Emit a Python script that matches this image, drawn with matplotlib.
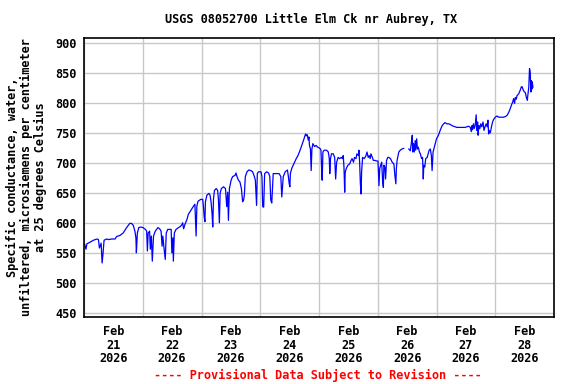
import numpy as np
import pandas as pd
import matplotlib
matplotlib.use("Agg")
import matplotlib.pyplot as plt

# hours after 2026-02-21 00:00 and specific conductance (uS/cm at 25 C)
hours = [0.3, 0.8, 1.2, 2.6, 3.9, 5.3, 5.9, 6.3, 7.0, 7.4, 7.8, 8.2, 9.3, 10.0, 11.3,
         12.7, 13.3, 14.7, 16.0, 17.4, 18.7, 19.4, 20.1, 20.8, 21.2, 21.4, 21.8, 22.4,
         23.2, 24.1, 25.1, 25.6, 25.9, 26.2, 26.8, 27.1, 27.5, 27.9, 28.4, 29.1, 30.2,
         30.9, 31.5, 31.9, 32.2, 32.6, 33.2, 33.6, 34.2, 35.6, 35.9, 36.3, 36.5, 36.9,
         37.6, 38.6, 39.4, 40.0, 40.3, 40.7, 41.2, 42.1, 42.6, 43.4, 44.3, 45.3, 45.8,
         46.1, 46.6, 47.7,
         48.5, 48.8, 49.1, 49.4, 49.6, 50.2, 51.0, 51.5, 51.9, 52.3, 52.6, 52.9, 53.3,
         54.0, 54.6, 54.9, 55.3, 55.6, 56.1, 57.0, 57.8, 58.3, 58.7, 59.0, 59.4, 60.1,
         60.7, 61.7, 62.1, 62.5, 63.1, 63.7, 64.3, 64.8, 65.2, 65.5, 65.9, 66.6, 67.3,
         68.2, 68.9, 69.6, 70.0, 70.5, 70.8, 71.3, 72.3, 72.7, 73.0, 73.4, 73.8, 74.6,
         75.4, 75.9, 76.3, 76.7, 77.3, 78.4, 79.7, 80.4, 80.8, 81.4, 82.2, 83.1, 83.5,
         83.8, 84.1, 84.3, 84.9, 85.8,
         86.7, 87.4, 88.0, 88.7, 89.4, 90.1, 90.5, 90.8, 91.2, 91.6, 91.9, 92.1, 92.5,
         92.8, 93.1, 93.5, 94.2, 94.8, 95.5,
         96.4, 96.8, 97.1, 97.3, 97.6, 98.1, 99.1, 99.8, 100.2, 100.4, 100.7, 101.1,
         101.8, 102.4, 102.8, 103.2, 103.8, 104.4, 105.1, 105.5, 105.9, 106.2, 106.5,
         106.7, 107.1, 107.8, 108.5, 109.1, 109.5, 110.1, 110.5, 111.1, 111.5, 112.1,
         112.3, 112.6, 112.9, 113.2, 113.4, 113.8, 114.5, 115.2, 115.6, 116.1, 116.5,
         116.9, 117.2, 117.8, 118.2, 118.8, 119.6, 120.1, 120.5, 120.8, 121.2, 121.6,
         122.0, 122.3, 122.5, 122.9, 123.2, 123.6, 124.1, 124.5, 125.2, 125.9, 126.6,
         127.0, 127.4, 127.6, 127.9, 128.6, 129.2, 129.9, 130.6, 131.6,
         132.7, 133.3, 133.7, 134.1, 134.3, 134.6, 134.9, 135.3, 135.5, 135.9, 136.2,
         136.6, 137.0, 137.4, 137.9, 138.3, 138.6, 138.8, 139.2, 139.6, 140.2, 140.6,
         141.0, 141.5, 141.9, 142.2, 142.6, 143.3, 144.0,
         144.8, 145.5, 146.2, 146.9, 147.5, 148.2, 148.9, 149.6, 150.3, 151.0, 151.6,
         152.3, 153.0, 154.4, 155.7, 156.4, 157.1, 157.8, 158.2, 158.5, 158.7, 159.1,
         159.4, 159.8, 160.2, 160.5, 160.8, 161.0, 161.3, 161.7, 162.1, 162.5, 163.0,
         163.4, 163.9, 164.3, 164.7, 165.0, 165.3, 165.5, 166.0, 166.4, 166.9, 167.3,
         168.0, 168.7, 169.4, 170.1, 170.7, 171.4, 172.1, 172.8, 173.5, 174.1, 174.6,
         175.1, 175.5, 175.9, 176.2, 176.6, 176.9, 177.6, 178.2, 178.6, 178.9, 179.3,
         179.7, 180.3, 180.7, 181.1, 181.3, 181.7, 182.0, 182.3, 182.4, 182.6, 182.7,
         183.0, 183.1, 183.4]
cond = [564, 556, 565, 568, 571, 573, 572, 558, 566, 533, 550, 571, 573, 572, 573,
        573, 577, 579, 583, 592, 599, 599, 596, 586, 575, 550, 583, 592,
        593, 592, 589, 586, 553, 583, 586, 556, 578, 536, 578, 586, 592,
        590, 586, 561, 578, 561, 539, 583, 589, 589, 550, 575, 536, 583,
        589, 592, 594, 597, 600, 590, 597, 606, 614, 619, 625, 631, 578,
        628, 636, 639,
        639, 627, 610, 602, 635, 646, 649, 646, 635, 616, 593, 640, 654,
        657, 654, 640, 600, 649, 657, 660, 657, 627, 651, 604, 657, 671,
        677, 679, 683, 677, 671, 668, 657, 635, 638, 646, 677, 685, 688,
        687, 685, 677, 671, 629, 682, 685, 685, 677, 627, 626, 682, 685,
        683, 677, 638, 633, 682, 682, 682, 677, 643, 677, 685, 688, 677,
        666, 660, 682, 691, 699,
        707, 712, 718, 726, 734, 743, 748, 745, 747, 738, 743, 729, 723,
        687, 723, 732, 727, 729, 726,
        724, 721, 687, 671, 718, 721, 721, 718, 707, 682, 707, 715,
        715, 709, 673, 701, 709, 707, 709, 707, 712, 693, 651,
        684, 690, 696, 698, 704, 707, 701, 709, 707, 715, 712,
        721, 701, 665, 648, 684, 709, 707, 712, 718, 709, 712,
        707, 715, 709, 704, 704, 703, 703, 662, 690, 696, 701,
        668, 659, 696, 693, 673, 704, 709, 709, 707, 701, 698,
        679, 665, 690, 704, 718, 721, 723, 724, np.nan,
        723, 720, 732, 746, 718, 732, 718, 737, 721, 740, 723,
        726, 718, 715, 707, 709, 673, 696, 693, 707, 709, 715,
        721, 723, 712, 687, 718, 729, 740,
        746, 754, 761, 765, 767, 765, 765, 764, 762, 761, 760,
        759, 759, 759, 759, 760, 761, 759, 752, 762, 755, 765,
        757, 762, 780, 754, 768, 746, 762, 757, 765, 760, 768,
        754, 761, 765, 760, 771, 748, 754, 750, 759, 768, 772,
        776, 778, 776, 776, 776, 776, 777, 779, 784, 790, 796,
        801, 807, 799, 809, 806, 812, 815, 821, 826, 827, 823,
        819, 817, 809, 804, 812, 826, 857, 851, 835, 818, 837,
        823, 835, 826]

day_labels = ["Feb\n21\n2026", "Feb\n22\n2026", "Feb\n23\n2026", "Feb\n24\n2026",
              "Feb\n25\n2026", "Feb\n26\n2026", "Feb\n27\n2026", "Feb\n28\n2026"]
y_ticks = [450, 500, 550, 600, 650, 700, 750, 800, 850, 900]

start = pd.Timestamp("2026-02-21")
times = start + pd.to_timedelta(hours, unit="h")

plt.rcParams['font.family'] = 'DejaVu Sans Mono'
plt.rcParams['font.weight'] = 'bold'
fs = 8.6

fig = plt.figure(figsize=(5.76, 3.84), dpi=100)
ax = fig.add_axes([84/576, 1-317/384, 470/576, 279/384])

ax.plot(times, cond, color='#0000ff', lw=0.9)

midnights = pd.date_range("2026-02-21", periods=9, freq="D")
noons = midnights[:-1] + pd.Timedelta(hours=12)
ax.set_xlim(midnights[0], midnights[-1])
ax.set_xticks(midnights)
ax.set_xticklabels([])
ax.set_xticks(noons, minor=True)
ax.set_xticklabels(day_labels, minor=True, fontsize=fs, fontweight='bold',
                   linespacing=1.05)
ax.tick_params(axis='x', which='both', length=0, pad=6)

ax.set_ylim(443, 908)
ax.set_yticks(y_ticks)
ax.set_yticklabels([str(v) for v in y_ticks], fontsize=fs, fontweight='bold')
ax.tick_params(axis='y', length=0, pad=5)

ax.grid(True, which='major', color='#c8c8c8', lw=1.0)
ax.set_axisbelow(True)
for s in ax.spines.values():
    s.set_linewidth(1.2)

ax.set_ylabel("Specific conductance, water,\nunfiltered, microsiemens per centimeter\nat 25 degrees Celsius",
              fontsize=fs, fontweight='bold', linespacing=1.12, labelpad=6)
fig.text(311/576, 1-19/384, "USGS 08052700 Little Elm Ck nr Aubrey, TX",
         ha='center', va='center', fontsize=fs, fontweight='bold')
fig.text(318/576, 1-375/384, "---- Provisional Data Subject to Revision ----",
         ha='center', va='center', fontsize=fs, fontweight='bold', color='#ff0000')

fig.savefig("out.png", dpi=100)
